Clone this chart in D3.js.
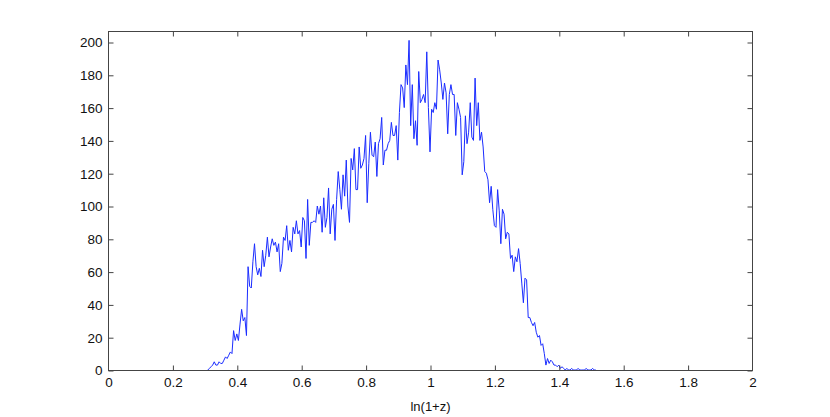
<!DOCTYPE html>
<html>
<head>
<meta charset="utf-8">
<script src="https://cdnjs.cloudflare.com/ajax/libs/d3/7.8.5/d3.min.js"></script>
<style>
  html, body { margin: 0; padding: 0; background: #fff; }
  svg { display: block; }
  text { font-family: "Liberation Sans", Arial, Helvetica, sans-serif; }
</style>
</head>
<body>
<svg id="chart" width="830" height="417"></svg>
<script>
// ---- data ----
const binStart = 0.31;
const binWidth = 0.005;
const counts = [
  0,1,2,3,5,3,3,5,4,4,6,8,7,9,11,10,24,18,22,18,
  28,37,30,32,21,63,51,50,66,77,63,58,62,57,73,63,70,81,69,75,
  80,76,78,72,77,60,65,81,79,88,73,79,72,87,83,91,83,85,75,93,
  91,68,104,76,90,90,91,90,100,95,100,84,105,87,93,111,83,98,101,79,
  104,121,110,98,119,106,128,100,90,129,122,135,110,110,136,123,125,129,143,102,
  126,145,131,130,139,118,138,141,154,125,134,134,138,140,151,143,143,149,128,157,
  174,172,160,186,174,201,149,174,141,152,137,182,163,165,168,163,194,160,133,159,
  157,163,159,189,183,175,165,175,169,144,168,174,168,168,143,163,159,154,119,127,
  155,138,145,163,142,140,178,149,163,140,145,136,121,120,116,102,112,98,88,87,
  110,97,77,98,95,80,84,83,68,70,60,69,66,74,65,53,41,56,55,32,
  32,29,27,29,23,20,21,15,16,10,3,7,4,6,5,3,3,2,3,1,
  2,1,0,1,0,0,1,0,0,0,1,0,0,0,0,1,0,0,0,1,
  0,0
];
const xTicks = [0, 0.2, 0.4, 0.6, 0.8, 1, 1.2, 1.4, 1.6, 1.8, 2];
const yTicks = [0, 20, 40, 60, 80, 100, 120, 140, 160, 180, 200];
const xLabel = "ln(1+z)";

// ---- layout ----
const mL = 108, mR = 752, mT = 31, mB = 370;
const svg = d3.select("#chart");

const x = d3.scaleLinear().domain([0, 2]).range([mL, mR]);
const y = d3.scaleLinear().domain([0, 200]).range([mB, 42]);

const points = counts.map((c, i) => [binStart + i * binWidth, c]);

// data line
svg.append("path")
  .datum(points)
  .attr("fill", "none")
  .attr("stroke", "#1a2cff")
  .attr("stroke-width", 1)
  .attr("stroke-linejoin", "round")
  .attr("d", d3.line().x(d => x(d[0])).y(d => y(d[1])));

const axisColor = "#444";
const tl = 5;

// box
svg.append("rect")
  .attr("x", mL + 0.5).attr("y", mT + 0.5)
  .attr("width", mR - mL).attr("height", mB - mT)
  .attr("fill", "none").attr("stroke", axisColor).attr("stroke-width", 1);

// axes (ticks inward)
const xb = svg.append("g").attr("transform", `translate(0.5,${mB + 0.5})`)
  .call(d3.axisBottom(x).tickValues(xTicks).tickSize(-tl).tickPadding(7).tickFormat(d3.format("~g")));
const xt = svg.append("g").attr("transform", `translate(0.5,${mT + 0.5})`)
  .call(d3.axisTop(x).tickValues(xTicks).tickSize(-tl).tickFormat(""));
const yl = svg.append("g").attr("transform", `translate(${mL + 0.5},0.5)`)
  .call(d3.axisLeft(y).tickValues(yTicks).tickSize(-tl).tickPadding(6));
const yr = svg.append("g").attr("transform", `translate(${mR + 0.5},0.5)`)
  .call(d3.axisRight(y).tickValues(yTicks).tickSize(-tl).tickFormat(""));

[xb, xt, yl, yr].forEach(g => {
  g.select(".domain").remove();
  g.selectAll(".tick line").attr("stroke", axisColor);
  g.selectAll(".tick text").attr("fill", "#111").style("font-size", "13.5px")
    .style("font-family", '"Liberation Sans", Arial, sans-serif');
});
xb.selectAll(".tick").filter(d => d === 0 || d === 2).select("line").remove();
xt.selectAll(".tick").filter(d => d === 0 || d === 2).select("line").remove();

svg.append("text")
  .attr("x", (mL + mR) / 2 + 0.5).attr("y", 411)
  .attr("text-anchor", "middle")
  .attr("fill", "#111")
  .style("font-size", "13px")
  .text(xLabel);
</script>
</body>
</html>
